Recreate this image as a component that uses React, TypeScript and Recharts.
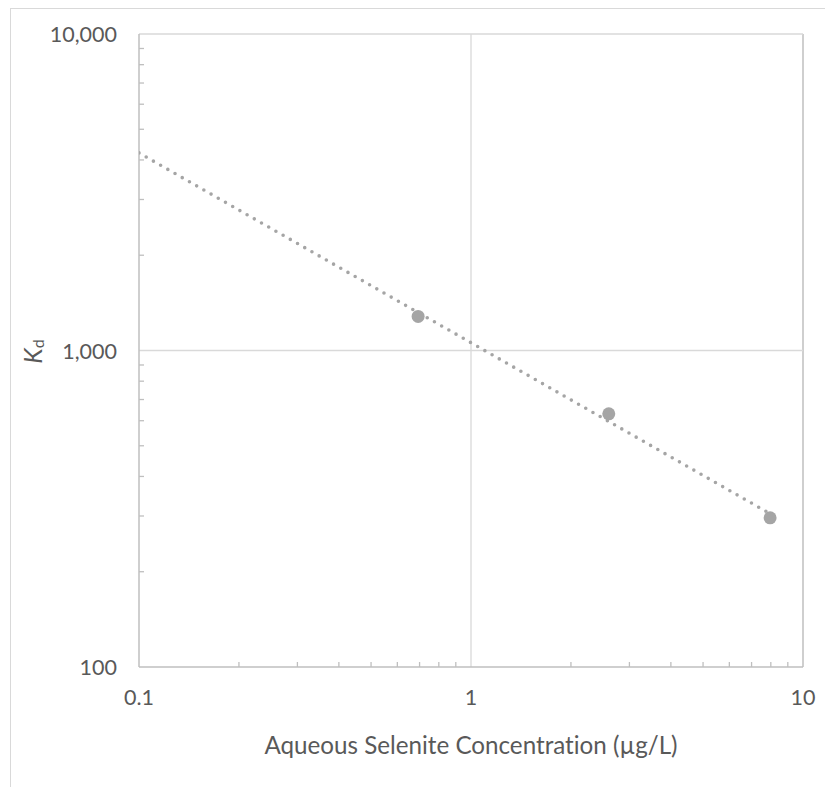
import React from 'react';
import { ScatterChart, Scatter, XAxis, YAxis, ReferenceLine } from 'recharts';

// ---- data ----
const concentration = [0.693, 2.6, 7.96];
const kdValues = [1281, 631, 296];
const trendX = [0.1, 7.96];
const trendY = [4210, 305];

const xMajorTicks = [0.1, 1, 10];
const xMajorLabels = ['0.1', '1', '10'];
const xMinorTicks = [0.2, 0.3, 0.4, 0.5, 0.6, 0.7, 0.8, 0.9, 2, 3, 4, 5, 6, 7, 8, 9];
const yMajorTicks = [100, 1000, 10000];
const yMajorLabels = ['100', '1,000', '10,000'];
const yMinorTicks = [200, 300, 400, 500, 600, 700, 800, 900, 2000, 3000, 4000, 5000, 6000, 7000, 8000, 9000];

const xTitle = 'Aqueous Selenite Concentration (µg/L)';

const points = concentration.map((x, i) => ({ x, y: kdValues[i] }));
const trend = trendX.map((x, i) => ({ x, y: trendY[i] }));

const FONT = 'Lato, "Open Sans", sans-serif';
const TEXT = '#595959';
const AXIS = '#bfbfbf';
const GRID = '#d9d9d9';
const MARK = '#a5a5a5';

const allX = [...xMajorTicks, ...xMinorTicks].sort((a, b) => a - b);
const allY = [...yMajorTicks, ...yMinorTicks].sort((a, b) => a - b);

const noLig = { fontVariantLigatures: 'none' } as any;

const XTick = (props: any) => {
  const { x, y, payload } = props;
  const v = payload.value;
  const idx = xMajorTicks.indexOf(v);
  if (idx >= 0) {
    return (
      <text x={x} y={y + 38} textAnchor="middle" fill={TEXT} fontFamily={FONT} fontSize={21.5} style={noLig}>
        {xMajorLabels[idx]}
      </text>
    );
  }
  return <line x1={x} x2={x} y1={y} y2={y - 5} stroke={AXIS} strokeWidth={1.3} />;
};

const YTick = (props: any) => {
  const { x, y, payload } = props;
  const v = payload.value;
  const idx = yMajorTicks.indexOf(v);
  if (idx >= 0) {
    return (
      <text x={x - 22} y={y} textAnchor="end" dominantBaseline="central" fill={TEXT} fontFamily={FONT} fontSize={21.5} style={noLig}>
        {yMajorLabels[idx]}
      </text>
    );
  }
  return <line x1={x} x2={x + 5} y1={y} y2={y} stroke={AXIS} strokeWidth={1.3} />;
};

const XTitle = (props: any) => {
  const vb = props.viewBox || {};
  const cx = vb.x + vb.width / 2;
  return (
    <text x={cx} y={vb.y + 87} textAnchor="middle" fill={TEXT} fontFamily={FONT} fontSize={24.2} style={noLig}>
      {xTitle}
    </text>
  );
};

const YTitle = (props: any) => {
  const vb = props.viewBox || {};
  const cx = vb.x - 17;
  const cy = vb.y + vb.height / 2 + 1;
  return (
    <text
      x={cx}
      y={cy}
      textAnchor="middle"
      transform={`rotate(-90, ${cx}, ${cy})`}
      fill={TEXT}
      fontFamily={FONT}
    >
      <tspan fontStyle="italic" fontSize={25}>K</tspan>
      <tspan fontSize={16} dy={2}>d</tspan>
    </text>
  );
};

export default function App() {
  return (
    <div style={{ position: 'absolute', left: 0, top: 0, width: 825, height: 787, overflow: 'hidden', background: '#fff' }}>
      <div
        style={{
          position: 'absolute',
          left: 10,
          top: 8,
          width: 900,
          height: 900,
          border: '1.5px solid #d9d9d9',
          boxSizing: 'border-box',
        }}
      />
      <div style={{ position: 'absolute', left: 0, top: 0 }}>
        <ScatterChart width={825} height={787} margin={{ top: 34, right: 22, bottom: 60, left: 59 }}>
          <XAxis
            type="number"
            dataKey="x"
            scale="log"
            domain={[0.1, 10]}
            ticks={allX}
            interval={0}
            allowDataOverflow
            height={60}
            tickSize={0}
            tickMargin={0}
            tickLine={false}
            axisLine={{ stroke: AXIS, strokeWidth: 1.5 }}
            tick={<XTick />}
            label={{ content: <XTitle /> } as any}
          />
          <YAxis
            type="number"
            dataKey="y"
            scale="log"
            domain={[100, 10000]}
            ticks={allY}
            interval={0}
            allowDataOverflow
            width={80}
            tickSize={0}
            tickMargin={0}
            tickLine={false}
            axisLine={{ stroke: AXIS, strokeWidth: 1.5 }}
            tick={<YTick />}
            label={{ content: <YTitle /> } as any}
          />
          <ReferenceLine x={1} stroke={GRID} strokeWidth={1.3} />
          <ReferenceLine x={10} stroke={AXIS} strokeWidth={1.5} />
          <ReferenceLine y={1000} stroke={GRID} strokeWidth={1.3} />
          <ReferenceLine y={10000} stroke={GRID} strokeWidth={1.3} />
          <Scatter
            data={points}
            isAnimationActive={false}
            fill={MARK}
            shape={(p: any) => <circle cx={p.cx} cy={p.cy} r={6.5} fill={MARK} />}
          />
          <Scatter
            data={trend}
            isAnimationActive={false}
            fill={MARK}
            line={{ stroke: MARK, strokeWidth: 3.6, strokeDasharray: '0 8.3', strokeLinecap: 'round' } as any}
            lineType="joint"
            shape={() => <g />}
          />
        </ScatterChart>
      </div>
    </div>
  );
}
